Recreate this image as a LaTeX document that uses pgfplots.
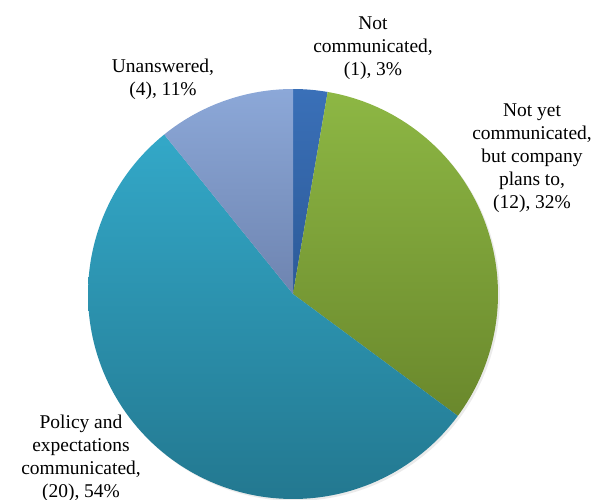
\documentclass[border=0pt]{standalone}
\usepackage{fontspec}
\setmainfont{Liberation Serif}
\usepackage{pgfplots}
\pgfplotsset{compat=1.18}

% counts per answer (total 37)
\def\nA{1}   % Not communicated
\def\nB{12}  % Not yet communicated
\def\nC{20}  % Policy and expectations communicated
\def\nD{4}   % Unanswered
\pgfmathsetmacro\total{\nA+\nB+\nC+\nD}
\pgfmathsetmacro\aA{90}
\pgfmathsetmacro\aB{\aA-360*\nA/\total}
\pgfmathsetmacro\aC{\aB-360*\nB/\total}
\pgfmathsetmacro\aD{\aC-360*\nC/\total}
\pgfmathsetmacro\aE{\aD-360*\nD/\total}

\definecolor{blueT}{HTML}{3A70B8}
\definecolor{blueB}{HTML}{2C5A98}
\definecolor{greenT}{HTML}{8DB744}
\definecolor{greenB}{HTML}{6A882C}
\definecolor{tealT}{HTML}{33A8C8}
\definecolor{tealB}{HTML}{237890}
\definecolor{lavT}{HTML}{8CA8D8}
\definecolor{lavB}{HTML}{6E84B0}

\tikzset{lbl/.style={font=\fontsize{14.6}{17.3}\selectfont, align=center, inner sep=0pt}}

\begin{document}
\begin{tikzpicture}
\begin{axis}[
    x=0.75pt, y=0.75pt,
    xmin=0, xmax=594, ymin=0, ymax=500,
    y dir=reverse,
    hide axis,
    clip=true,
    ]
    % soft shadow
    \addplot[draw=none, fill=black, opacity=0.08, domain=0:360, samples=120, variable=\t]
        ({295+205*cos(\t)},{296-205*sin(\t)}) -- cycle;
    \addplot[draw=none, top color=blueT, bottom color=blueB, domain=\aB:\aA, samples=20, variable=\t]
        ({293+205*cos(\t)},{294-205*sin(\t)}) -- (axis cs:293,294) -- cycle;
    \addplot[draw=none, top color=greenT, bottom color=greenB, domain=\aC:\aB, samples=80, variable=\t]
        ({293+205*cos(\t)},{294-205*sin(\t)}) -- (axis cs:293,294) -- cycle;
    \addplot[draw=none, top color=tealT, bottom color=tealB, domain=\aD:\aC, samples=120, variable=\t]
        ({293+205*cos(\t)},{294-205*sin(\t)}) -- (axis cs:293,294) -- cycle;
    \addplot[draw=none, top color=lavT, bottom color=lavB, domain=\aE:\aD, samples=30, variable=\t]
        ({293+205*cos(\t)},{294-205*sin(\t)}) -- (axis cs:293,294) -- cycle;

    \node[lbl] at (axis cs:373,48) {Not\\communicated,\\(1), 3\%};
    \node[lbl] at (axis cs:532,158) {Not yet\\communicated,\\but company\\plans to,\\(12), 32\%};
    \node[lbl] at (axis cs:163,79) {Unanswered,\\(4), 11\%};
    \node[lbl] at (axis cs:81,458) {Policy and\\expectations\\communicated,\\(20), 54\%};
\end{axis}
\pgfresetboundingbox
\path (current axis.south west) rectangle (current axis.north east);
\end{tikzpicture}
\end{document}
